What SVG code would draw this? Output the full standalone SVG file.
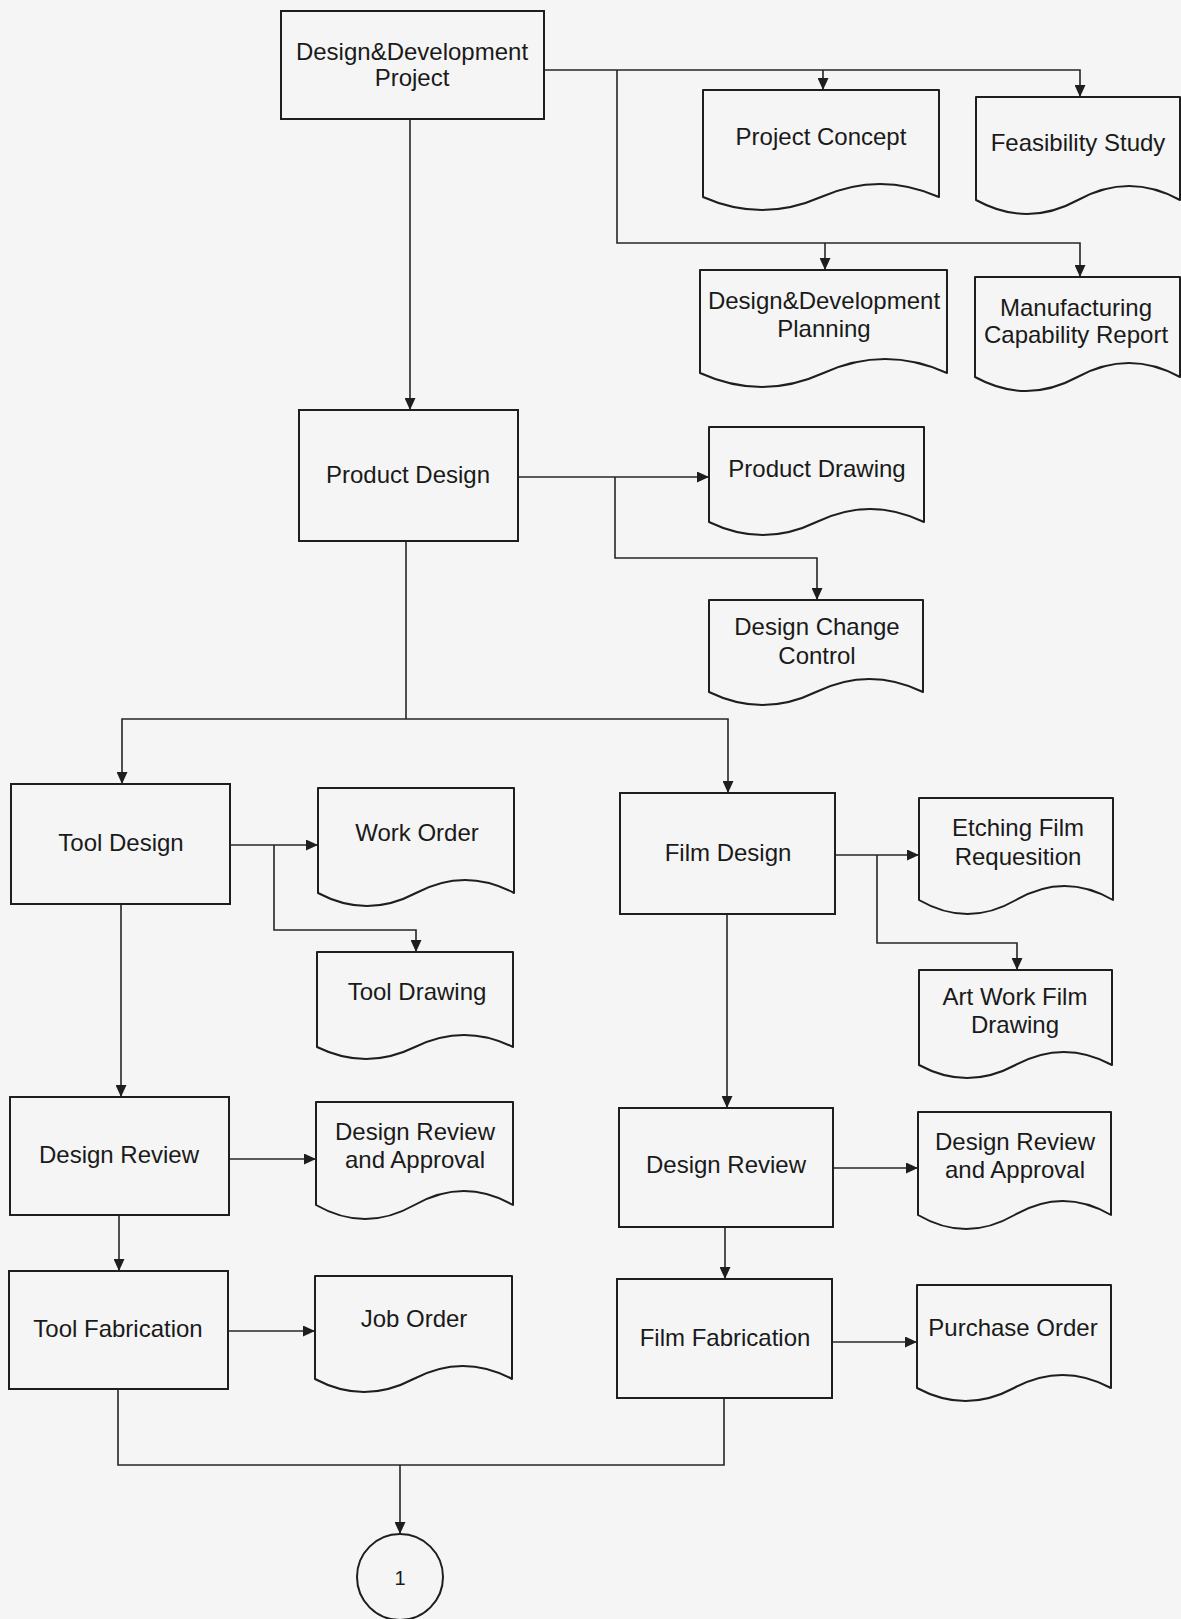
<svg xmlns="http://www.w3.org/2000/svg" width="1181" height="1619" viewBox="0 0 1181 1619">
<style>
.box{fill:none;stroke:#1e1e1e;stroke-width:2}
.doc{fill:none;stroke:#1e1e1e;stroke-width:2;stroke-linejoin:round}
.t{font-family:"Liberation Sans",Arial,sans-serif;font-size:24px;fill:#1a1a1a;text-anchor:middle}
.c{fill:none;stroke:#262626;stroke-width:1.6}
.a{marker-end:url(#ah)}
</style>
<defs>
<marker id="ah" markerUnits="userSpaceOnUse" markerWidth="12" markerHeight="11" refX="12" refY="5.5" orient="auto">
<path d="M0,0 L12,5.5 L0,11 z" fill="#1e1e1e"/>
</marker>
</defs>
<rect width="1181" height="1619" fill="#f5f5f5"/>

<g id="connectors">
<path class="c a" d="M410,119 V410"/>
<path class="c a" d="M544,70 H1080 V97"/>
<path class="c a" d="M823,70 V90"/>
<path class="c a" d="M617,70 V243 H1080 V277"/>
<path class="c a" d="M825,243 V270"/>
<path class="c a" d="M518,477 H709"/>
<path class="c a" d="M615,477 V558 H817 V600"/>
<path class="c" d="M406,541 V719"/>
<path class="c a" d="M406,719 H122 V784"/>
<path class="c a" d="M406,719 H728 V793"/>
<path class="c a" d="M230,845 H318"/>
<path class="c a" d="M274,845 V930 H416 V952"/>
<path class="c a" d="M121,904 V1097"/>
<path class="c a" d="M229,1159 H316"/>
<path class="c a" d="M119,1215 V1271"/>
<path class="c a" d="M228,1331 H315"/>
<path class="c a" d="M835,855 H919"/>
<path class="c a" d="M877,855 V943 H1017 V970"/>
<path class="c a" d="M727,914 V1108"/>
<path class="c a" d="M833,1168 H918"/>
<path class="c a" d="M725,1227 V1279"/>
<path class="c a" d="M832,1342 H917"/>
<path class="c" d="M118,1389 V1465 H724 V1398"/>
<path class="c a" d="M400,1465 V1534"/>
</g>

<g id="dd-project">
<rect class="box" x="281" y="11" width="263" height="108"/>
<text class="t" x="412" y="60">Design&amp;Development</text>
<text class="t" x="412" y="86">Project</text>
</g>

<g id="project-concept">
<path class="doc" d="M703,197 V90 H939 V197 Q880,171 821,197 T703,197 Z"/>
<text class="t" x="821" y="145">Project Concept</text>
</g>

<g id="feasibility-study">
<path class="doc" d="M976,200 V97 H1180 V200 Q1129,172 1078,200 T976,200 Z"/>
<text class="t" x="1078" y="151">Feasibility Study</text>
</g>

<g id="dd-planning">
<path class="doc" d="M700,373 V270 H947 V373 Q885,345 823.5,373 T700,373 Z"/>
<text class="t" x="824" y="309">Design&amp;Development</text>
<text class="t" x="824" y="337">Planning</text>
</g>

<g id="manufacturing-capability">
<path class="doc" d="M975,377 V277 H1180 V377 Q1129,349 1077.5,377 T975,377 Z"/>
<text class="t" x="1076" y="316">Manufacturing</text>
<text class="t" x="1076" y="343">Capability Report</text>
</g>

<g id="product-design">
<rect class="box" x="299" y="410" width="219" height="131"/>
<text class="t" x="408" y="483">Product Design</text>
</g>

<g id="product-drawing">
<path class="doc" d="M709,522 V427 H924 V522 Q870,496 816.5,522 T709,522 Z"/>
<text class="t" x="817" y="477">Product Drawing</text>
</g>

<g id="design-change-control">
<path class="doc" d="M709,692 V600 H923 V692 Q869.5,666 816,692 T709,692 Z"/>
<text class="t" x="817" y="635">Design Change</text>
<text class="t" x="817" y="664">Control</text>
</g>

<g id="tool-design">
<rect class="box" x="11" y="784" width="219" height="120"/>
<text class="t" x="121" y="851">Tool Design</text>
</g>

<g id="work-order">
<path class="doc" d="M318,893 V788 H514 V893 Q465,867 416,893 T318,893 Z"/>
<text class="t" x="417" y="841">Work Order</text>
</g>

<g id="tool-drawing">
<path class="doc" d="M317,1047 V952 H513 V1047 Q464,1023 415,1047 T317,1047 Z"/>
<text class="t" x="417" y="1000">Tool Drawing</text>
</g>

<g id="film-design">
<rect class="box" x="620" y="793" width="215" height="121"/>
<text class="t" x="728" y="861">Film Design</text>
</g>

<g id="etching-film">
<path class="doc" d="M919,900 V798 H1113 V900 Q1064.5,872 1016,900 T919,900 Z"/>
<text class="t" x="1018" y="836">Etching Film</text>
<text class="t" x="1018" y="865">Requesition</text>
</g>

<g id="art-work-film">
<path class="doc" d="M919,1065 V970 H1112 V1065 Q1064,1039 1015.5,1065 T919,1065 Z"/>
<text class="t" x="1015" y="1005">Art Work Film</text>
<text class="t" x="1015" y="1033">Drawing</text>
</g>

<g id="design-review-tool">
<rect class="box" x="10" y="1097" width="219" height="118"/>
<text class="t" x="119" y="1163">Design Review</text>
</g>

<g id="dra-tool">
<path class="doc" d="M316,1205 V1102 H513 V1205 Q464,1177 414.5,1205 T316,1205 Z"/>
<text class="t" x="415" y="1140">Design Review</text>
<text class="t" x="415" y="1168">and Approval</text>
</g>

<g id="tool-fabrication">
<rect class="box" x="9" y="1271" width="219" height="118"/>
<text class="t" x="118" y="1337">Tool Fabrication</text>
</g>

<g id="job-order">
<path class="doc" d="M315,1379 V1276 H512 V1379 Q463,1353 413.5,1379 T315,1379 Z"/>
<text class="t" x="414" y="1327">Job Order</text>
</g>

<g id="design-review-film">
<rect class="box" x="619" y="1108" width="214" height="119"/>
<text class="t" x="726" y="1173">Design Review</text>
</g>

<g id="dra-film">
<path class="doc" d="M918,1215 V1112 H1111 V1215 Q1063,1187 1014.5,1215 T918,1215 Z"/>
<text class="t" x="1015" y="1150">Design Review</text>
<text class="t" x="1015" y="1178">and Approval</text>
</g>

<g id="film-fabrication">
<rect class="box" x="617" y="1279" width="215" height="119"/>
<text class="t" x="725" y="1346">Film Fabrication</text>
</g>

<g id="purchase-order">
<path class="doc" d="M917,1388 V1285 H1111 V1388 Q1062.5,1362 1014,1388 T917,1388 Z"/>
<text class="t" x="1013" y="1336">Purchase Order</text>
</g>

<g id="connector-1">
<circle cx="400" cy="1577" r="43" fill="none" stroke="#1e1e1e" stroke-width="2"/>
<text class="t" x="400" y="1585" style="font-size:20px">1</text>
</g>
</svg>
